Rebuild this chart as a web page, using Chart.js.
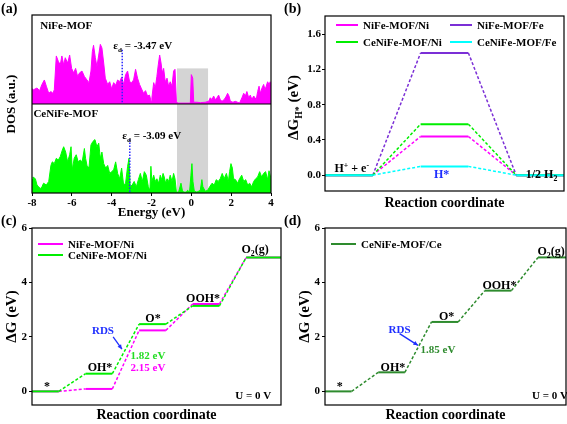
<!DOCTYPE html>
<html>
<head>
<meta charset="utf-8">
<script src="https://cdn.jsdelivr.net/npm/chart.js@4/dist/chart.umd.min.js"></script>
<style>
  body { margin: 0; background: #fff; }
  #wrap { position: relative; width: 567px; height: 424px; }
  canvas { position: absolute; }
</style>
</head>
<body>
<div id="wrap">
  <canvas id="chartC" style="left:0;top:212px" width="283" height="212"></canvas>
  <canvas id="chartD" style="left:283px;top:212px" width="284" height="212"></canvas>
  <canvas id="chartA" style="left:0;top:0" width="283" height="220"></canvas>
  <canvas id="chartB" style="left:283px;top:0" width="284" height="212"></canvas>
</div>
<script>
// ---- (a) projected DOS, heights (each half = 1 unit) ----
const dosTopEnergy = [
  -8.00, -7.92, -7.75, -7.62, -7.50, -7.38, -7.28, -7.16, -7.05, -6.95,
  -6.88, -6.78, -6.68, -6.58, -6.50, -6.41, -6.33, -6.21, -6.11, -6.01,
  -5.91, -5.81, -5.71, -5.61, -5.49, -5.37, -5.24, -5.14, -5.04, -4.97,
  -4.91, -4.82, -4.74, -4.65, -4.57, -4.49, -4.40, -4.32, -4.20, -4.10,
  -4.00, -3.90, -3.80, -3.70, -3.60, -3.50, -3.40, -3.30, -3.20, -3.10,
  -3.00, -2.90, -2.80, -2.70, -2.60, -2.50, -2.40, -2.30, -2.20, -2.10,
  -2.02, -1.98, -1.89, -1.81, -1.73, -1.66, -1.59, -1.52, -1.46, -1.39,
  -1.31, -1.22, -1.14, -1.06, -0.97, -0.89, -0.82, -0.75, -0.69, -0.05,
  0.00, 0.07, 0.12, 0.28, 0.45, 0.70, 0.87, 0.95, 1.04, 1.12,
  1.20, 1.29, 1.37, 1.45, 1.54, 1.65, 1.76, 1.82, 1.89, 1.96,
  2.09, 2.21, 2.32, 2.42, 2.54, 2.63, 2.71, 2.79, 2.88, 2.96,
  3.04, 3.13, 3.26, 3.33, 3.40, 3.46, 3.55, 3.63, 3.70, 3.76,
  3.83, 3.90, 3.96, 4.00
];
const dosNiFe = [
  0.17, 0.16, 0.18, 0.15, 0.22, 0.27, 0.20, 0.12, 0.14, 0.12,
  0.16, 0.54, 0.48, 0.44, 0.54, 0.44, 0.52, 0.46, 0.55, 0.40,
  0.35, 0.40, 0.31, 0.35, 0.37, 0.31, 0.27, 0.24, 0.37, 0.59,
  0.66, 0.52, 0.42, 0.55, 0.67, 0.63, 0.46, 0.29, 0.22, 0.25,
  0.17, 0.24, 0.21, 0.27, 0.25, 0.30, 0.22, 0.33, 0.37, 0.25,
  0.24, 0.27, 0.39, 0.29, 0.22, 0.17, 0.12, 0.15, 0.09, 0.10,
  0.03, 0.07, 0.24, 0.18, 0.31, 0.44, 0.55, 0.46, 0.35, 0.40,
  0.25, 0.29, 0.20, 0.25, 0.20, 0.37, 0.39, 0.03, 0.01, 0.01,
  0.33, 0.29, 0.02, 0.02, 0.015, 0.02, 0.03, 0.07, 0.05, 0.09,
  0.05, 0.07, 0.10, 0.05, 0.03, 0.05, 0.09, 0.12, 0.09, 0.03,
  0.02, 0.03, 0.02, 0.01, 0.07, 0.12, 0.09, 0.14, 0.07, 0.10,
  0.05, 0.09, 0.05, 0.14, 0.20, 0.12, 0.18, 0.22, 0.16, 0.20,
  0.25, 0.22, 0.25, 0.24
];
const dosBottomEnergy = [
  -8.00, -7.95, -7.83, -7.75, -7.67, -7.58, -7.50, -7.42, -7.28, -7.16,
  -7.05, -6.98, -6.88, -6.78, -6.68, -6.58, -6.48, -6.41, -6.31, -6.21,
  -6.11, -6.04, -5.98, -5.88, -5.78, -5.68, -5.58, -5.48, -5.37, -5.31,
  -5.24, -5.14, -5.04, -4.94, -4.84, -4.74, -4.65, -4.57, -4.49, -4.40,
  -4.30, -4.20, -4.10, -4.00, -3.90, -3.80, -3.70, -3.60, -3.50, -3.40,
  -3.30, -3.20, -3.13, -3.07, -2.97, -2.87, -2.76, -2.66, -2.56, -2.46,
  -2.36, -2.26, -2.16, -2.08, -2.03, -1.98, -1.89, -1.81, -1.73, -1.64,
  -1.56, -1.49, -1.42, -1.36, -1.29, -1.22, -1.14, -1.06, -0.97, -0.89,
  -0.82, -0.75, -0.64, -0.52, -0.45, -0.39, -0.25, -0.19, -0.09, -0.02,
  0.03, 0.08, 0.15, 0.28, 0.45, 0.53, 0.58, 0.70, 0.82, 0.92,
  1.04, 1.15, 1.25, 1.35, 1.45, 1.55, 1.65, 1.76, 1.86, 1.92,
  1.99, 2.06, 2.12, 2.22, 2.32, 2.42, 2.53, 2.63, 2.73, 2.83,
  2.93, 3.03, 3.13, 3.23, 3.33, 3.43, 3.53, 3.63, 3.73, 3.83,
  3.90, 4.00
];
const dosCeNiFe = [
  0.15, 0.18, 0.16, 0.09, 0.07, 0.05, 0.07, 0.11, 0.09, 0.13,
  0.31, 0.35, 0.33, 0.39, 0.37, 0.41, 0.48, 0.52, 0.46, 0.35,
  0.43, 0.52, 0.26, 0.39, 0.43, 0.35, 0.37, 0.35, 0.50, 0.39,
  0.31, 0.28, 0.54, 0.58, 0.60, 0.52, 0.56, 0.39, 0.46, 0.33,
  0.28, 0.31, 0.22, 0.24, 0.26, 0.35, 0.22, 0.16, 0.28, 0.09,
  0.11, 0.30, 0.39, 0.07, 0.09, 0.13, 0.07, 0.15, 0.22, 0.13,
  0.24, 0.20, 0.07, 0.03, 0.30, 0.13, 0.20, 0.13, 0.16, 0.11,
  0.20, 0.15, 0.22, 0.18, 0.11, 0.16, 0.13, 0.20, 0.13, 0.22,
  0.16, 0.01, 0.01, 0.11, 0.03, 0.01, 0.01, 0.03, 0.01, 0.20,
  0.33, 0.13, 0.02, 0.01, 0.03, 0.15, 0.07, 0.02, 0.03, 0.07,
  0.11, 0.09, 0.15, 0.13, 0.16, 0.22, 0.16, 0.22, 0.13, 0.24,
  0.33, 0.28, 0.16, 0.15, 0.11, 0.16, 0.20, 0.13, 0.15, 0.09,
  0.11, 0.07, 0.13, 0.16, 0.18, 0.24, 0.18, 0.22, 0.24, 0.15,
  0.25, 0.16
];
const dBandCentre = [-3.47, -3.09];
const fermiWindow = [-0.72, 0.84];
const energyTicks = [-8, -6, -4, -2, 0, 2, 4];

// ---- (b) HER free energy of H* ----
const herLabels = ['NiFe-MOF/Ni', 'NiFe-MOF/Fe', 'CeNiFe-MOF/Ni', 'CeNiFe-MOF/Fe'];
const herColors = ['#ff00ff', '#7b2fd6', '#00ee00', '#00ffff'];
const herDeltaG = [0.44, 1.39, 0.58, 0.10];
const herX = [0, 1, 2, 3, 4, 5];

// ---- (c), (d) OER free energy steps: *, OH*, O*, OOH*, O2(g) ----
const oerStates = ['*', 'OH*', 'O*', 'OOH*', 'O\u2082(g)'];
const oerNiFeNi = [0, 0.09, 2.24, 3.21, 4.92];
const oerCeNiFeNi = [0, 0.65, 2.47, 3.14, 4.92];
const oerCeNiFeCe = [0, 0.70, 2.55, 3.70, 4.92];
const oerXc = [0, 1, 2, 3, 4, 5, 6, 7, 8, 9.3];
const oerXd = [0, 1, 2, 3, 4, 5, 6, 7, 8, 9.05];

const FAM = '"Liberation Serif", "Times New Roman", serif';
const fnt = (s) => 'bold ' + s + 'px ' + FAM;
const levels = (v) => v.flatMap(e => [e, e]);
const pts = (xs, ys) => xs.map((x, i) => ({ x: x, y: ys[i] }));
const dashOdd = { borderDash: c => (c.p0DataIndex % 2 === 1 ? [3, 2] : undefined),
                  borderWidth: c => (c.p0DataIndex % 2 === 1 ? 1.5 : 2) };

// text with sub/superscripts: parts = [[text, 0 normal | 1 sub | 2 sup], ...]
function rich(ctx, parts, x, y, align, size, color) {
  ctx.save();
  ctx.fillStyle = color || '#000';
  ctx.textBaseline = 'alphabetic';
  ctx.textAlign = 'left';
  let w = 0;
  parts.forEach(p => { ctx.font = fnt(p[1] ? size * 0.65 : size); w += ctx.measureText(p[0]).width; });
  let cx = align === 'center' ? x - w / 2 : (align === 'right' ? x - w : x);
  const base = y + size * 0.35;
  parts.forEach(p => {
    ctx.font = fnt(p[1] ? size * 0.65 : size);
    const dy = p[1] === 1 ? size * 0.25 : (p[1] === 2 ? -size * 0.4 : 0);
    ctx.fillText(p[0], cx, base + dy);
    cx += ctx.measureText(p[0]).width;
  });
  ctx.restore();
}

function frame(chart) {
  const { ctx, chartArea: a } = chart;
  ctx.save();
  ctx.strokeStyle = '#000';
  ctx.lineWidth = 1.2;
  ctx.strokeRect(a.left, a.top, a.right - a.left, a.bottom - a.top);
  ctx.restore();
}

function letter(chart, t) {
  const ctx = chart.ctx;
  ctx.save();
  ctx.font = fnt(14);
  ctx.fillStyle = '#000';
  ctx.textBaseline = 'middle';
  ctx.fillText(t, 1, 9);
  ctx.restore();
}

function legendLines(chart, items, len, size) {
  const ctx = chart.ctx;
  items.forEach(it => {
    const ds = chart.data.datasets[it.i];
    ctx.save();
    ctx.strokeStyle = ds.borderColor;
    ctx.lineWidth = 2;
    ctx.beginPath(); ctx.moveTo(it.x, it.y); ctx.lineTo(it.x + len, it.y); ctx.stroke();
    ctx.font = fnt(size);
    ctx.fillStyle = '#000';
    ctx.textBaseline = 'middle';
    ctx.fillText(ds.label, it.x + len + 5, it.y + 1);
    ctx.restore();
  });
}

function arrow(chart, x0, y0, x1, y1, color) {
  const { ctx, scales } = chart;
  const ax = scales.x.getPixelForValue(x0), ay = scales.y.getPixelForValue(y0);
  const bx = scales.x.getPixelForValue(x1), by = scales.y.getPixelForValue(y1);
  const ang = Math.atan2(by - ay, bx - ax);
  ctx.save();
  ctx.strokeStyle = color; ctx.fillStyle = color; ctx.lineWidth = 1.3;
  ctx.beginPath(); ctx.moveTo(ax, ay); ctx.lineTo(bx, by); ctx.stroke();
  ctx.beginPath();
  ctx.moveTo(bx, by);
  ctx.lineTo(bx - 5 * Math.cos(ang - 0.45), by - 5 * Math.sin(ang - 0.45));
  ctx.lineTo(bx - 5 * Math.cos(ang + 0.45), by - 5 * Math.sin(ang + 0.45));
  ctx.closePath(); ctx.fill();
  ctx.restore();
}

function at(chart, x, y) {
  return [chart.scales.x.getPixelForValue(x), chart.scales.y.getPixelForValue(y)];
}

const tickFont = { family: FAM, size: 11, weight: 'bold' };
const tickGrid = { drawOnChartArea: false, tickLength: 3, color: '#000' };

// ================= (a) =================
new Chart(document.getElementById('chartA'), {
  type: 'line',
  data: {
    datasets: [{
      label: 'NiFe-MOF',
      data: pts(dosTopEnergy, dosNiFe.map(v => 1 + v)),
      borderColor: '#ff00ff', backgroundColor: '#ff00ff',
      borderWidth: 1, pointRadius: 0, fill: { value: 1 }
    }, {
      label: 'CeNiFe-MOF',
      data: pts(dosBottomEnergy, dosCeNiFe),
      borderColor: '#00ff00', backgroundColor: '#00ff00',
      borderWidth: 1, pointRadius: 0, fill: { value: 0 }
    }]
  },
  options: {
    responsive: false, animation: false, devicePixelRatio: 1,
    layout: { padding: { top: 15, right: 12, left: 0, bottom: 0 } },
    plugins: { legend: { display: false }, tooltip: { enabled: false } },
    scales: {
      x: {
        type: 'linear', min: -8, max: 4,
        afterBuildTicks: s => { s.ticks = energyTicks.map(v => ({ value: v })); },
        ticks: { font: tickFont, color: '#000', padding: 1 },
        grid: tickGrid, border: { display: false },
        title: { display: true, text: 'Energy (eV)', font: { family: FAM, size: 13, weight: 'bold' }, color: '#000', padding: 0 },
        afterFit: s => { s.height = 27; }
      },
      y: {
        min: 0, max: 2,
        ticks: { display: false }, grid: { display: false }, border: { display: false },
        title: { display: true, text: 'DOS (a.u.)', font: { family: FAM, size: 13, weight: 'bold' }, color: '#000', padding: { top: 4, bottom: 0 } },
        afterFit: s => { s.width = 32; }
      }
    }
  },
  plugins: [{
    id: 'panelA',
    beforeDatasetsDraw(chart) {
      const ctx = chart.ctx;
      const [x0, yTop] = at(chart, fermiWindow[0], 1.40);
      const [x1, yMid] = at(chart, fermiWindow[1], 1);
      const yBot = chart.scales.y.getPixelForValue(0);
      ctx.save();
      ctx.fillStyle = '#d4d4d4';
      ctx.fillRect(x0, yTop, x1 - x0, yMid - yTop);
      ctx.fillRect(x0, yMid, x1 - x0, yBot - yMid);
      ctx.restore();
    },
    afterDatasetsDraw(chart) {
      const ctx = chart.ctx;
      const a = chart.chartArea;
      const ySep = chart.scales.y.getPixelForValue(1);
      ctx.save();
      ctx.strokeStyle = '#000'; ctx.lineWidth = 1.2;
      ctx.beginPath(); ctx.moveTo(a.left, ySep); ctx.lineTo(a.right, ySep); ctx.stroke();
      // d-band centres
      ctx.strokeStyle = '#2a2aff'; ctx.lineWidth = 1.5; ctx.setLineDash([1.5, 1.5]);
      let p = at(chart, dBandCentre[0], 1.61), q = at(chart, dBandCentre[0], 1);
      ctx.beginPath(); ctx.moveTo(p[0], p[1]); ctx.lineTo(q[0], q[1]); ctx.stroke();
      p = at(chart, dBandCentre[1], 0.60); q = at(chart, dBandCentre[1], 0);
      ctx.beginPath(); ctx.moveTo(p[0], p[1]); ctx.lineTo(q[0], q[1]); ctx.stroke();
      ctx.restore();
      frame(chart);
      letter(chart, '(a)');
      let t = at(chart, -7.58, 1.89);
      rich(ctx, [['NiFe-MOF', 0]], t[0], t[1], 'left', 11);
      t = at(chart, -7.93, 0.90);
      rich(ctx, [['CeNiFe-MOF', 0]], t[0], t[1], 'left', 11);
      t = at(chart, -3.92, 1.66);
      rich(ctx, [['\u03b5', 0], ['d', 1], [' = ' + dBandCentre[0] + ' eV', 0]], t[0], t[1], 'left', 11);
      t = at(chart, -3.47, 0.65);
      rich(ctx, [['\u03b5', 0], ['d', 1], [' = ' + dBandCentre[1] + ' eV', 0]], t[0], t[1], 'left', 11);
    }
  }]
});

// ================= (b) =================
new Chart(document.getElementById('chartB'), {
  type: 'line',
  data: {
    datasets: herLabels.map((lab, i) => ({
      label: lab,
      data: pts(herX, [0, 0, herDeltaG[i], herDeltaG[i], 0, 0]),
      borderColor: herColors[i], backgroundColor: herColors[i],
      pointRadius: 0, fill: false, segment: dashOdd,
      order: 3 - i
    }))
  },
  options: {
    responsive: false, animation: false, devicePixelRatio: 1,
    layout: { padding: { top: 16, right: 3, left: 0, bottom: 0 } },
    plugins: { legend: { display: false }, tooltip: { enabled: false } },
    scales: {
      x: {
        type: 'linear', min: 0, max: 5,
        ticks: { display: false }, grid: { display: false }, border: { display: false },
        title: { display: true, text: 'Reaction coordinate', font: { family: FAM, size: 14, weight: 'bold' }, color: '#000', padding: 0 },
        afterFit: s => { s.height = 21; }
      },
      y: {
        min: -0.18, max: 1.81,
        ticks: { stepSize: 0.4, includeBounds: false, font: tickFont, color: '#000', padding: 1,
                 callback: v => Number(v).toFixed(1) },
        grid: tickGrid, border: { display: false },
        title: { display: false },
        afterFit: s => { s.width = 42; }
      }
    }
  },
  plugins: [{
    id: 'panelB',
    afterDatasetsDraw(chart) {
      const ctx = chart.ctx;
      const a = chart.chartArea;
      frame(chart);
      letter(chart, '(b)');
      ctx.save();
      ctx.translate(10, (a.top + a.bottom) / 2 + 4);
      ctx.rotate(-Math.PI / 2);
      rich(ctx, [['\u0394G', 0], ['H*', 1], [' (eV)', 0]], 0, 0, 'center', 15);
      ctx.restore();
      legendLines(chart, [
        { i: 0, x: 53, y: 25 }, { i: 1, x: 167, y: 25 },
        { i: 2, x: 53, y: 42 }, { i: 3, x: 167, y: 42 }
      ], 22, 11);
      let t = at(chart, 0.56, 0.08);
      rich(ctx, [['H', 0], ['+', 2], [' + e', 0], ['-', 2]], t[0], t[1], 'center', 12);
      t = at(chart, 4.53, 0.02);
      rich(ctx, [['1/2 H', 0], ['2', 1]], t[0], t[1], 'center', 12);
      t = at(chart, 2.44, 0.01);
      rich(ctx, [['H*', 0]], t[0], t[1], 'center', 12, '#1f2fff');
    }
  }]
});

// ================= (c) =================
new Chart(document.getElementById('chartC'), {
  type: 'line',
  data: {
    datasets: [{
      label: 'NiFe-MOF/Ni', data: pts(oerXc, levels(oerNiFeNi)),
      borderColor: '#ff00ff', pointRadius: 0, fill: false, segment: dashOdd, order: 2
    }, {
      label: 'CeNiFe-MOF/Ni', data: pts(oerXc, levels(oerCeNiFeNi)),
      borderColor: '#00ee00', pointRadius: 0, fill: false, segment: dashOdd, order: 1
    }]
  },
  options: {
    responsive: false, animation: false, devicePixelRatio: 1,
    layout: { padding: { top: 16, right: 2, left: 0, bottom: 0 } },
    plugins: { legend: { display: false }, tooltip: { enabled: false } },
    scales: {
      x: {
        type: 'linear', min: 0, max: 9.3,
        ticks: { display: false }, grid: { display: false }, border: { display: false },
        title: { display: true, text: 'Reaction coordinate', font: { family: FAM, size: 14, weight: 'bold' }, color: '#000', padding: 0 },
        afterFit: s => { s.height = 19; }
      },
      y: {
        min: -0.5, max: 6,
        ticks: { stepSize: 2, includeBounds: false, font: tickFont, color: '#000', padding: 2 },
        grid: tickGrid, border: { display: false },
        title: { display: true, text: '\u0394G (eV)', font: { family: FAM, size: 15, weight: 'bold' }, color: '#000', padding: { top: 3, bottom: 0 } },
        afterFit: s => { s.width = 32; }
      }
    }
  },
  plugins: [{
    id: 'panelC',
    afterDatasetsDraw(chart) {
      const ctx = chart.ctx;
      frame(chart);
      letter(chart, '(c)');
      legendLines(chart, [{ i: 0, x: 38, y: 32 }, { i: 1, x: 38, y: 43 }], 25, 11);
      const labelPos = [[0.56, 0.22], [2.54, 0.89], [4.52, 2.70], [6.39, 3.44], [8.33, 5.25]];
      oerStates.forEach((s, i) => {
        const t = at(chart, labelPos[i][0], labelPos[i][1]);
        if (i === 4) rich(ctx, [['O', 0], ['2', 1], ['(g)', 0]], t[0], t[1], 'center', 12);
        else rich(ctx, [[s, 0]], t[0], t[1], 'center', 12);
      });
      let t = at(chart, 2.65, 2.25);
      rich(ctx, [['RDS', 0]], t[0], t[1], 'center', 11, '#1f2fff');
      arrow(chart, 3.03, 2.0, 3.36, 1.55, '#1f2fff');
      t = at(chart, 4.33, 1.33);
      rich(ctx, [[(oerCeNiFeNi[2] - oerCeNiFeNi[1]).toFixed(2) + ' eV', 0]], t[0], t[1], 'center', 11, '#22dd22');
      t = at(chart, 4.33, 0.89);
      rich(ctx, [[(oerNiFeNi[2] - oerNiFeNi[1] + 0.0).toFixed(2) + ' eV', 0]], t[0], t[1], 'center', 11, '#ff00ff');
      t = at(chart, 8.26, -0.15);
      rich(ctx, [['U = 0 V', 0]], t[0], t[1], 'center', 11);
    }
  }]
});

// ================= (d) =================
new Chart(document.getElementById('chartD'), {
  type: 'line',
  data: {
    datasets: [{
      label: 'CeNiFe-MOF/Ce', data: pts(oerXd, levels(oerCeNiFeCe)),
      borderColor: '#2e8b2e', pointRadius: 0, fill: false, segment: dashOdd
    }]
  },
  options: {
    responsive: false, animation: false, devicePixelRatio: 1,
    layout: { padding: { top: 16, right: 1, left: 0, bottom: 0 } },
    plugins: { legend: { display: false }, tooltip: { enabled: false } },
    scales: {
      x: {
        type: 'linear', min: 0, max: 9.05,
        ticks: { display: false }, grid: { display: false }, border: { display: false },
        title: { display: true, text: 'Reaction coordinate', font: { family: FAM, size: 14, weight: 'bold' }, color: '#000', padding: 0 },
        afterFit: s => { s.height = 19; }
      },
      y: {
        min: -0.5, max: 6,
        ticks: { stepSize: 2, includeBounds: false, font: tickFont, color: '#000', padding: 2 },
        grid: tickGrid, border: { display: false },
        title: { display: true, text: '\u0394G (eV)', font: { family: FAM, size: 15, weight: 'bold' }, color: '#000', padding: { top: 13, bottom: 0 } },
        afterFit: s => { s.width = 42; }
      }
    }
  },
  plugins: [{
    id: 'panelD',
    afterDatasetsDraw(chart) {
      const ctx = chart.ctx;
      frame(chart);
      letter(chart, '(d)');
      legendLines(chart, [{ i: 0, x: 48, y: 32 }], 25, 11);
      const labelPos = [[0.55, 0.22], [2.55, 0.92], [4.57, 2.77], [6.55, 3.93], [8.49, 5.18]];
      oerStates.forEach((s, i) => {
        const t = at(chart, labelPos[i][0], labelPos[i][1]);
        if (i === 4) rich(ctx, [['O', 0], ['2', 1], ['(g)', 0]], t[0], t[1], 'center', 12);
        else rich(ctx, [[s, 0]], t[0], t[1], 'center', 12);
      });
      let t = at(chart, 2.8, 2.3);
      rich(ctx, [['RDS', 0]], t[0], t[1], 'center', 11, '#1f2fff');
      arrow(chart, 2.80, 2.12, 3.49, 1.69, '#1f2fff');
      t = at(chart, 4.24, 1.54);
      rich(ctx, [[(oerCeNiFeCe[2] - oerCeNiFeCe[1]).toFixed(2) + ' eV', 0]], t[0], t[1], 'center', 11, '#2e8b2e');
      t = at(chart, 8.45, -0.15);
      rich(ctx, [['U = 0 V', 0]], t[0], t[1], 'center', 11);
    }
  }]
});
</script>
</body>
</html>
